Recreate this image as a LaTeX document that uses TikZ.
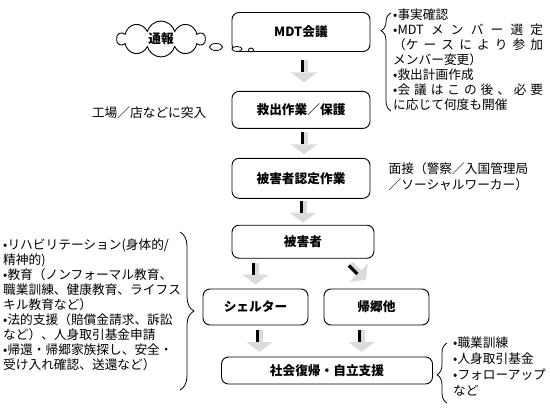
\documentclass[tikz,border=0pt]{standalone}
\usepackage{fontspec}
\setmainfont{Noto Sans CJK JP}
\usetikzlibrary{positioning, shapes, calc, decorations.pathreplacing}

\tikzset{
  stage/.style={draw, rectangle, rounded corners=7pt, line width=0.9pt, fill=white,
    minimum width=138pt, font=\bfseries\fontsize{12.7}{15}\selectfont},
  note/.style={align=left, inner sep=0pt, font=\fontsize{12.7}{15}\selectfont},
  curly/.style={line width=0.8pt, decorate, decoration={brace, amplitude=9pt}},
  flowarrow/.pic={
    \fill[gray!28] (-3.5,-11) rectangle (3.5,1);
    \fill[gray!28] (-13,1) -- (13,1) -- (0,11) -- cycle;
    \fill[black] (-3.5,-11) rectangle (-0.3,1);
  }
}

\begin{document}
\begin{tikzpicture}[x=1pt, y=-1pt]
  \useasboundingbox (0,0) rectangle (550,410);

  % main flow
  \node[stage, minimum height=39pt] (mdt) at (301,32) {MDT会議};
  \node[stage, minimum height=37pt] (rescue) [below=39pt of mdt] {救出作業／保護};
  \node[stage, minimum height=40pt] (verify) [below=29pt of rescue] {被害者認定作業};
  \node[stage, minimum height=33pt, minimum width=142pt, xshift=2pt] (victim) [below=26pt of verify] {被害者};
  \node[stage, minimum height=36pt, minimum width=105pt] (shelter) at (255.5,307) {シェルター};
  \node[stage, minimum height=36pt, minimum width=105pt] (home) at (376.5,307) {帰郷他};
  \node[stage, minimum height=27pt, minimum width=211pt] (social) at (327,370.5) {社会復帰・自立支援};

  % report cloud and bubbles
  \node[cloud, draw, line width=0.9pt, cloud puffs=10, aspect=2.4, minimum width=88pt,
    minimum height=36pt, inner sep=0pt, font=\bfseries\fontsize{12.7}{15}\selectfont] (report) at (161,39) {通報};
  \node[ellipse, draw, line width=0.8pt, fill=white, minimum width=13pt, minimum height=7pt, inner sep=0pt] (bub1) at (216,47) {};
  \node[ellipse, draw, line width=0.8pt, fill=white, minimum width=10pt, minimum height=5pt, inner sep=0pt] (bub2) at (237,49) {};
  \node[ellipse, draw, line width=0.8pt, fill=white, minimum width=5pt, minimum height=4pt, inner sep=0pt] (bub3) at (251,50) {};

  % arrows
  \pic[xshift=3pt] at ($(mdt.south)!.5!(rescue.north)$) {flowarrow};
  \pic[xshift=3pt] at ($(rescue.south)!.5!(verify.north)$) {flowarrow};
  \pic[xshift=1pt] at ($(verify.south)!.5!(victim.north)$) {flowarrow};
  \pic at ($(shelter.north)!.5!(shelter.north |- victim.south)$) {flowarrow};
  \pic[rotate=45] at (358,272) {flowarrow};
  \pic[xshift=4pt] at ($(shelter.south)!.5!(shelter.south |- social.north)$) {flowarrow};
  \pic[xshift=-15pt] at ($(home.south)!.5!(home.south |- social.north)$) {flowarrow};

  % side notes
  \node[note] (raid) [left=25pt of rescue, yshift=-3pt] {工場／店などに突入};
  \node[note, font=\fontsize{12.7}{16}\selectfont] (interview) [right=18pt of verify, yshift=2pt]
    {面接（警察／入国管理局\\／ソーシャルワーカー）};
  \node[note, anchor=north west] (meetnotes) at (393,9)
    {•事実確認\\
     \makebox[150pt][s]{•MDT メ ン バ ー 選 定}\\
     \makebox[150pt][s]{（ケ ー ス に よ り 参 加}\\
     メンバー変更）\\
     •救出計画作成\\
     \makebox[150pt][s]{•会 議 は こ の 後 、 必 要}\\
     に応じて何度も開催};
  \node[note, anchor=north west] (care) at (3,239)
    {•リハビリテーション(身体的/\\
     精神的)\\
     •教育（ノンフォーマル教育、\\
     職業訓練、健康教育、ライフス\\
     キル教育など）\\
     •法的支援（賠償金請求、訴訟\\
     など）、人身取引基金申請\\
     •帰還・帰郷家族探し、安全・\\
     受け入れ確認、送還など）};
  \node[note, anchor=north west, font=\fontsize{12.7}{16}\selectfont] (support) at (453,337)
    {•職業訓練\\•人身取引基金\\•フォローアップ\\など};

  % braces
  \draw[curly, decoration={aspect=0.82, amplitude=10pt}] (391,111) -- (391,13);
  \draw[curly, decoration={aspect=0.5, amplitude=14pt}] (180,232) -- (180,390);
  \draw[curly, decoration={aspect=0.47, amplitude=10pt}] (447,403) -- (447,343);
\end{tikzpicture}
\end{document}
